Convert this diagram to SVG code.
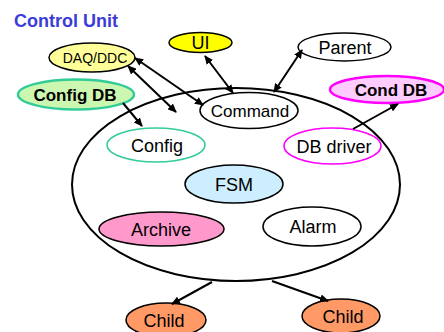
<svg xmlns="http://www.w3.org/2000/svg" width="444" height="332" viewBox="0 0 444 332">
<defs>
<style>
text{font-family:"Liberation Sans",Arial,sans-serif;fill:#000;text-anchor:middle}
.lbl{font-size:18px}
.bl{font-size:17px;font-weight:bold}
.n{stroke:#000;stroke-width:1.5}
.c{stroke:#000;stroke-width:2;fill:none}
</style>
<marker id="ah" markerWidth="9" markerHeight="8" refX="8" refY="4" orient="auto-start-reverse" markerUnits="userSpaceOnUse">
<path d="M0,0 L9,4 L0,8 Z" fill="#000"/>
</marker>
</defs>
<rect width="444" height="332" fill="#fff"/>
<text x="66" y="27" style="font-size:18px;font-weight:bold;fill:#3c3cd8">Control Unit</text>
<g id="control-unit"><ellipse cx="236" cy="184.5" rx="164" ry="96.5" fill="#fff" stroke="#000" stroke-width="2"/></g>
<g id="daq"><ellipse cx="92" cy="57.5" rx="43" ry="14.5" fill="#ffff99" class="n"/><text x="95" y="62.5" style="font-size:14px">DAQ/DDC</text></g>
<g id="ui"><ellipse cx="200.5" cy="42.5" rx="31.5" ry="10" fill="#ffff00" class="n"/><text x="200.5" y="49" style="font-size:18px">UI</text></g>
<g id="parent"><ellipse cx="344.5" cy="47" rx="46.5" ry="14" fill="#fff" class="n"/><text x="345" y="53.5" class="lbl">Parent</text></g>
<g id="config-db"><ellipse cx="76" cy="94.5" rx="58" ry="15" fill="#ccf7b0" stroke="#33cc99" stroke-width="2.5"/><text x="75" y="100.5" class="bl">Config DB</text></g>
<g id="cond-db"><ellipse cx="387" cy="89.5" rx="57" ry="13.5" fill="#ffccff" stroke="#ff00ff" stroke-width="2.5"/><text x="391" y="95.5" class="bl">Cond DB</text></g>
<g id="command"><ellipse cx="249" cy="110.5" rx="49" ry="18" fill="#fff" class="n"/><text x="250" y="116.5" style="font-size:17px">Command</text></g>
<g id="config"><ellipse cx="156" cy="145" rx="49" ry="17" fill="#fff" stroke="#33cc99" stroke-width="1.5"/><text x="157" y="151.5" class="lbl">Config</text></g>
<g id="db-driver"><ellipse cx="332.5" cy="146" rx="48.5" ry="18" fill="#fff" stroke="#ff00ff" stroke-width="1.5"/><text x="334" y="152.5" class="lbl">DB driver</text></g>
<g id="fsm"><ellipse cx="234" cy="184" rx="49" ry="19" fill="#cceeff" class="n"/><text x="234" y="190.5" class="lbl">FSM</text></g>
<g id="archive"><ellipse cx="161.5" cy="229" rx="62.5" ry="17" fill="#ff99cc" class="n"/><text x="161" y="235.5" class="lbl">Archive</text></g>
<g id="alarm"><ellipse cx="312" cy="226.5" rx="49" ry="19.5" fill="#fff" class="n"/><text x="313" y="233" class="lbl">Alarm</text></g>
<g id="child1"><ellipse cx="166" cy="320" rx="40" ry="17" fill="#ff9966" class="n"/><text x="164" y="327" class="lbl">Child</text></g>
<g id="child2"><ellipse cx="341" cy="316" rx="39" ry="17" fill="#ff9966" class="n"/><text x="343" y="322.5" class="lbl">Child</text></g>
<g id="connectors">
<line x1="205" y1="56" x2="233" y2="93" class="c" marker-start="url(#ah)" marker-end="url(#ah)"/>
<line x1="274" y1="92" x2="302" y2="50" class="c" marker-start="url(#ah)" marker-end="url(#ah)"/>
<line x1="135" y1="58" x2="203" y2="105" class="c" marker-start="url(#ah)" marker-end="url(#ah)"/>
<line x1="128" y1="66" x2="176" y2="112" class="c" marker-start="url(#ah)" marker-end="url(#ah)"/>
<line x1="123" y1="103" x2="142" y2="126" class="c" marker-end="url(#ah)"/>
<line x1="353" y1="129" x2="398" y2="104" class="c" marker-end="url(#ah)"/>
<line x1="212" y1="282" x2="172" y2="304" class="c" marker-end="url(#ah)"/>
<line x1="272" y1="281" x2="328" y2="301" class="c" marker-end="url(#ah)"/>
</g>
</svg>
